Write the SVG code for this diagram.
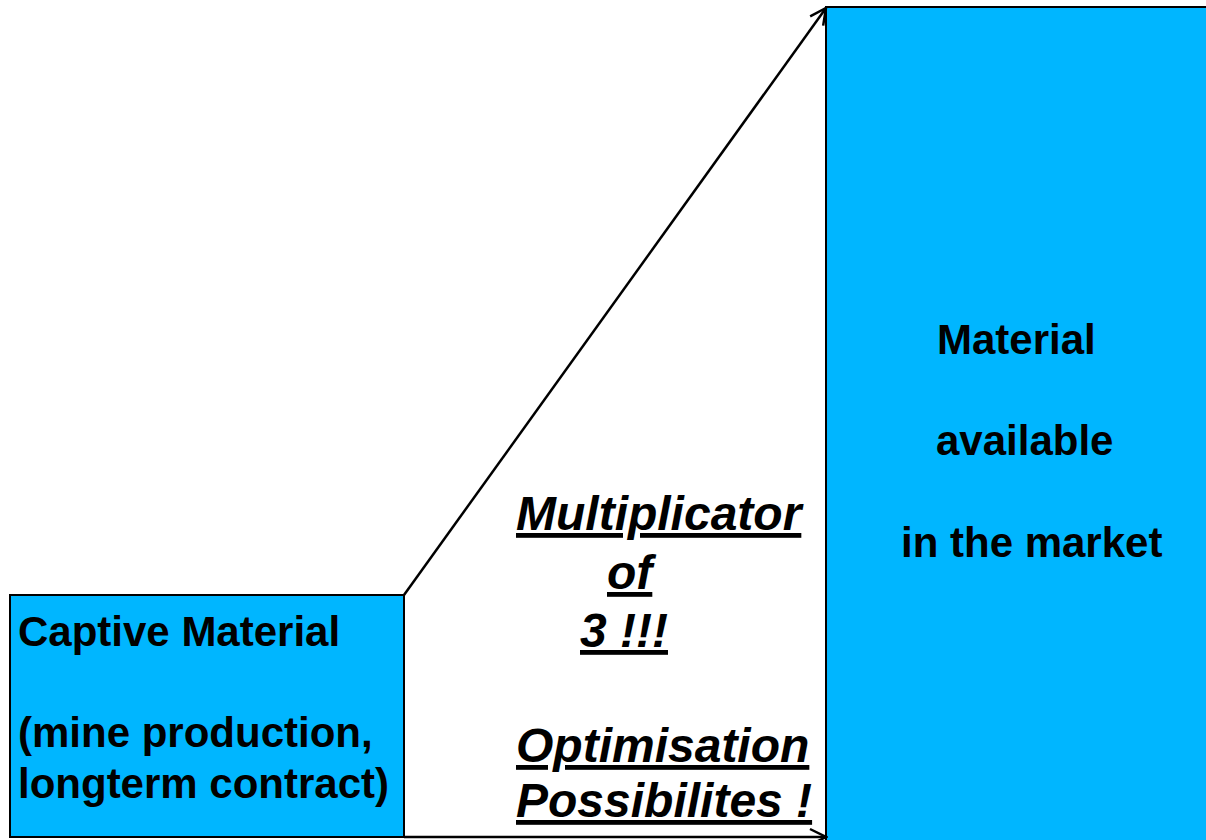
<svg xmlns="http://www.w3.org/2000/svg" width="1206" height="840" viewBox="0 0 1206 840">
<defs>
<style>
.box{fill:#00B6FF;stroke:#000;stroke-width:2}
.t{font-family:"Liberation Sans",Arial,sans-serif;font-weight:bold;font-size:42px;fill:#000}
.m{font-family:"Liberation Sans",Arial,sans-serif;font-weight:bold;font-style:italic;font-size:48px;fill:#000;text-decoration:underline}
.c{fill:none;stroke:#000;stroke-width:2.5}
</style>
<marker id="ah" viewBox="0 0 20 20" refX="18" refY="10" markerWidth="20" markerHeight="20" markerUnits="userSpaceOnUse" orient="auto">
<path d="M2,2 L18,10 L2,18" fill="none" stroke="#000" stroke-width="2.5"/>
</marker>
</defs>
<rect width="1206" height="840" fill="#fff"/>
<g id="captive">
<rect class="box" x="10" y="595" width="394" height="242"/>
<text class="t" x="18" y="646">Captive Material</text>
<text class="t" x="18" y="747">(mine production,</text>
<text class="t" x="18" y="798">longterm contract)</text>
</g>
<g id="market">
<rect class="box" x="826" y="7" width="390" height="840"/>
<text class="t" x="937" y="354">Material</text>
<text class="t" x="936" y="455">available</text>
<text class="t" x="901" y="557">in the market</text>
</g>
<g id="connectors">
<line class="c" x1="404" y1="595" x2="826" y2="8" marker-end="url(#ah)"/>
<line class="c" x1="404" y1="837" x2="826" y2="837" marker-end="url(#ah)"/>
</g>
<g id="label">
<text class="m" x="516" y="530">Multiplicator</text>
<text class="m" x="607" y="589">of</text>
<text class="m" x="580" y="647">3 !!!</text>
<text class="m" x="516" y="762">Optimisation</text>
<text class="m" x="516" y="817">Possibilites !</text>
</g>
</svg>
